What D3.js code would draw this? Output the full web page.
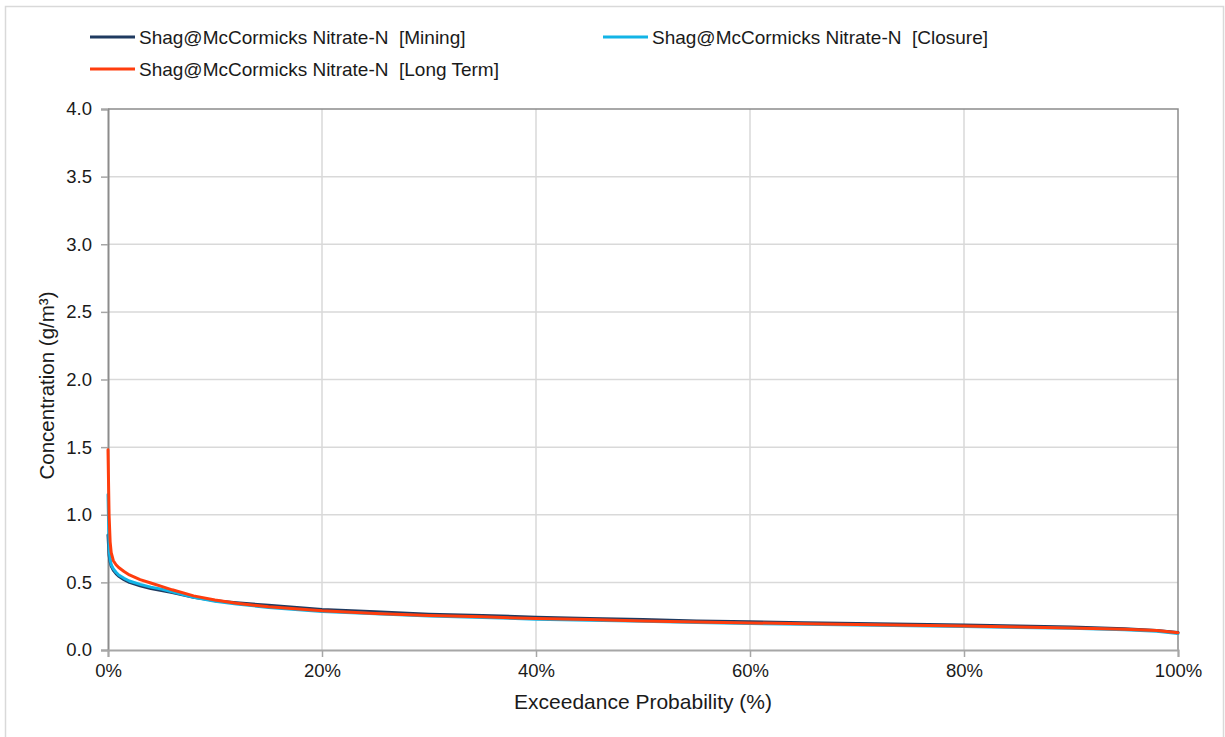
<!DOCTYPE html>
<html>
<head>
<meta charset="utf-8">
<script src="https://cdn.jsdelivr.net/npm/d3@7"></script>
<style>
  html, body { margin: 0; padding: 0; background: #fff; }
  svg { display: block; font-family: "Liberation Sans", Arial, sans-serif; }
</style>
</head>
<body>
<svg id="chart" width="1225" height="737"></svg>
<script>
// ---- Data ----
const exceedance = [0, 0.1, 0.2, 0.3, 0.5, 0.75, 1, 1.5, 2, 3, 4, 5, 6, 8, 10, 12, 15, 20, 25, 30, 35, 40, 45, 50, 55, 60, 65, 70, 75, 80, 85, 90, 95, 98, 100];
const mining   = [0.85, 0.70, 0.65, 0.62, 0.59, 0.565, 0.545, 0.52, 0.50, 0.475, 0.455, 0.44, 0.425, 0.39, 0.365, 0.35, 0.33, 0.30, 0.282, 0.265, 0.255, 0.243, 0.233, 0.225, 0.215, 0.208, 0.202, 0.196, 0.19, 0.185, 0.178, 0.17, 0.158, 0.145, 0.13];
const closure  = [1.15, 0.75, 0.67, 0.63, 0.60, 0.575, 0.555, 0.53, 0.51, 0.485, 0.465, 0.45, 0.43, 0.39, 0.36, 0.34, 0.315, 0.285, 0.268, 0.252, 0.24, 0.228, 0.22, 0.212, 0.203, 0.196, 0.19, 0.184, 0.179, 0.174, 0.167, 0.16, 0.15, 0.138, 0.122];
const longTerm = [1.48, 1.0, 0.80, 0.72, 0.66, 0.63, 0.61, 0.58, 0.555, 0.52, 0.495, 0.47, 0.445, 0.40, 0.37, 0.345, 0.32, 0.29, 0.27, 0.255, 0.245, 0.232, 0.225, 0.215, 0.207, 0.200, 0.195, 0.188, 0.183, 0.178, 0.170, 0.163, 0.153, 0.145, 0.128];
const seriesNames = ["Shag@McCormicks Nitrate-N  [Mining]", "Shag@McCormicks Nitrate-N  [Closure]", "Shag@McCormicks Nitrate-N  [Long Term]"];
const seriesColors = ["#1f3a60", "#12b4e6", "#ff3d0d"];
const xTicks = [0, 20, 40, 60, 80, 100];
const yTicks = [0, 0.5, 1.0, 1.5, 2.0, 2.5, 3.0, 3.5, 4.0];
const xTitle = "Exceedance Probability (%)";
const yTitle = "Concentration (g/m³)";

// ---- Layout ----
const svg = d3.select("#chart");
const L = 108, R = 1178, T = 109, B = 650;
const x = d3.scaleLinear().domain([0, 100]).range([L, R]);
const y = d3.scaleLinear().domain([0, 4]).range([B, T]);

// outer border
svg.append("rect").attr("x", 5.5).attr("y", 6.5).attr("width", 1218).attr("height", 740)
  .attr("fill", "none").attr("stroke", "#d9d9d9").attr("stroke-width", 1.5);

// gridlines
svg.append("g").selectAll("line.h").data(yTicks.filter(d => d > 0 && d < 4)).join("line")
  .attr("x1", L).attr("x2", R).attr("y1", d => y(d)).attr("y2", d => y(d))
  .attr("stroke", "#d9d9d9").attr("stroke-width", 1.5);
svg.append("g").selectAll("line.v").data(xTicks.filter(d => d > 0 && d < 100)).join("line")
  .attr("x1", d => x(d)).attr("x2", d => x(d)).attr("y1", T).attr("y2", B)
  .attr("stroke", "#d9d9d9").attr("stroke-width", 1.5);

// plot frame (top, right)
svg.append("path").attr("d", `M${L},${T}H${R}V${B}`).attr("fill", "none")
  .attr("stroke", "#8c8c8c").attr("stroke-width", 1.5);

// axes
const yAxis = d3.axisLeft(y).tickValues(yTicks).tickFormat(d3.format(".1f")).tickSize(7).tickPadding(9);
const gy = svg.append("g").attr("transform", `translate(${L},0)`).call(yAxis);
const xAxis = d3.axisBottom(x).tickValues(xTicks).tickFormat(d => d + "%").tickSize(7).tickPadding(7);
const gx = svg.append("g").attr("transform", `translate(0,${B})`).call(xAxis);
[gx, gy].forEach(g => {
  g.select(".domain").attr("stroke", "#a6a6a6").attr("stroke-width", 2);
  g.selectAll(".tick line").attr("stroke", "#a6a6a6").attr("stroke-width", 1.5);
  g.selectAll(".tick text").attr("fill", "#1a1a1a").style("font-size", "18.5px")
    .style("font-family", "'Liberation Sans', Arial, sans-serif");
});
gy.select(".domain").attr("stroke", "#8c8c8c");

// lines
const line = d3.line().x(d => x(d[0])).y(d => y(d[1]));
const allSeries = [mining, closure, longTerm];
allSeries.forEach((vals, i) => {
  svg.append("path").datum(exceedance.map((e, k) => [e, vals[k]]))
    .attr("d", line).attr("fill", "none")
    .attr("stroke", seriesColors[i]).attr("stroke-width", 3)
    .attr("stroke-linejoin", "round").attr("stroke-linecap", "round");
});

// axis titles
svg.append("text").attr("x", 643).attr("y", 709).attr("text-anchor", "middle")
  .attr("fill", "#1a1a1a").style("font-size", "21px").text(xTitle);
svg.append("text").attr("transform", `translate(54,${(T + B) / 2 + 6}) rotate(-90)`).attr("text-anchor", "middle")
  .attr("fill", "#1a1a1a").style("font-size", "20.5px").text(yTitle);

// legend
const legendPos = [[90, 37], [603, 37], [90, 69]];
seriesNames.forEach((name, i) => {
  const [lx, ly] = legendPos[i];
  svg.append("line").attr("x1", lx).attr("x2", lx + 45).attr("y1", ly).attr("y2", ly)
    .attr("stroke", seriesColors[i]).attr("stroke-width", 3);
  svg.append("text").attr("x", lx + 49).attr("y", ly + 7).attr("fill", "#1a1a1a")
    .style("font-size", "19px").style("white-space", "pre").attr("xml:space", "preserve").text(name);
});
</script>
</body>
</html>
